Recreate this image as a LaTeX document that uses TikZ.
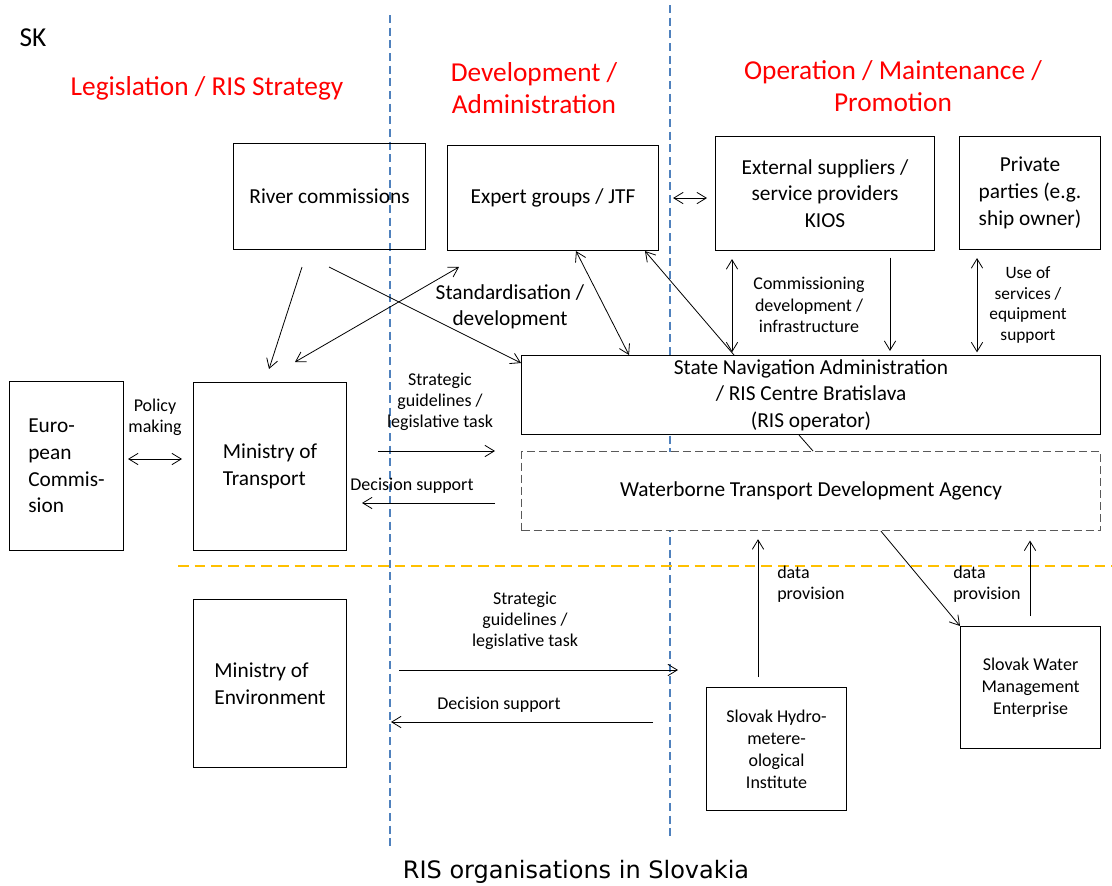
\documentclass[tikz,border=0pt]{standalone}
\usepackage{fontspec}
\setmainfont{Carlito}
\newfontfamily\captionfont{DejaVu Sans}
\usepackage{tikz}
\usetikzlibrary{arrows.meta}
\definecolor{headRed}{HTML}{FF0000}
\definecolor{lineBlue}{HTML}{4F81BD}
\definecolor{lineOrange}{HTML}{FFC000}
\definecolor{agencyGray}{HTML}{595959}
\newcommand{\orgNode}[7][]{
	\node[orgbox, #1, below right, minimum width = #5*0.75pt, minimum height = #6*0.75pt] (#2) at (#3, #4) {#7};
}

\begin{document}
\begin{tikzpicture}[x=0.75pt, y=-0.75pt,
	orgbox/.style = {draw, line width=0.8pt, fill=white, inner sep=0pt, align=center, font=\fontsize{16}{20}\selectfont},
	smallbox/.style = {font=\fontsize{13.5}{16.5}\selectfont},
	agency/.style = {draw=agencyGray, line width=0.9pt, dash pattern=on 6pt off 3pt},
	heading/.style = {text=headRed, inner sep=0pt, align=center, font=\fontsize{20.5}{24.5}\selectfont},
	flowtext/.style = {inner sep=0pt, align=center, font=\fontsize{13.5}{16}\selectfont},
	divider/.style = {draw=lineBlue, line width=1.6pt, dash pattern=on 6pt off 3.5pt},
	layerline/.style = {draw=lineOrange, line width=1.8pt, dash pattern=on 8pt off 4.5pt},
	plain/.style = {line width=0.6pt},
	conn/.style = {plain, -{Straight Barb[length=7pt, width=8.5pt]}},
	conn2/.style = {plain, {Straight Barb[length=7pt, width=8.5pt]}-{Straight Barb[length=7pt, width=8.5pt]}},
	]%

		\useasboundingbox (0, 0) rectangle (1112, 885);

		% dividers
		\draw[divider] (390, 15) -- (390, 850);
		\draw[divider] (670, 5) -- (670, 840);
		\draw[layerline] (178, 566) -- (1112, 566);

		% headings
		\node[inner sep=0pt, font=\fontsize{20.5}{24.5}\selectfont] (sk) at (33, 38) {SK};
		\node[heading] (legis) at (207, 88) {Legislation / RIS Strategy};
		\node[heading] (devel) at (534, 88) {Development /\\Administration};
		\node[heading] (oper) at (893, 86) {Operation / Maintenance /\\Promotion};

		% top row
		\orgNode[fill=none]{river}{233}{143}{192}{106}{River commissions}
		\orgNode{expert}{447}{145}{211}{105}{Expert groups / JTF}
		\orgNode{extsup}{715}{136}{219}{114}{External suppliers /\\service providers\\KIOS}
		\orgNode{private}{959}{136}{141}{113}{Private\\parties (e.g.\\ship owner)}

		% middle row
		\orgNode[align=left]{euro}{9}{381}{114}{169}{Euro-\\pean\\Commis-\\sion}
		\orgNode[align=left]{mot}{193}{382}{153}{168}{Ministry of\\Transport}
		\orgNode{statenav}{521}{355}{579}{79}{State Navigation Administration\\/ RIS Centre Bratislava\\(RIS operator)}
		\orgNode[agency]{wtda}{521}{451}{579}{79}{Waterborne Transport Development Agency}

		% bottom row
		\orgNode[align=left]{moe}{193}{599}{153}{168}{Ministry of\\Environment}
		\orgNode[smallbox]{hydro}{706}{687}{140}{123}{Slovak Hydro-\\metere-\\ological\\Institute}
		\orgNode[smallbox]{swme}{960}{626}{140}{122}{Slovak Water\\Management\\Enterprise}

		% flow labels
		\node[flowtext] (policy) at (155, 417) {Policy\\making};
		\node[flowtext, font=\fontsize{16}{19.5}\selectfont] (standard) at (510, 307) {Standardisation /\\development};
		\node[flowtext] (commis) at (809, 305) {Commissioning\\development /\\infrastructure};
		\node[flowtext, font=\fontsize{13}{15.5}\selectfont] (useof) at (1028, 305) {Use of\\services /\\equipment\\support};
		\node[flowtext] (stratTop) at (440, 402) {Strategic\\guidelines /\\legislative task};
		\node[flowtext] (decTop) at (412, 486) {Decision support};
		\node[flowtext] (stratBot) at (525, 621) {Strategic\\guidelines /\\legislative task};
		\node[flowtext] (decBot) at (499, 705) {Decision support};
		\node[flowtext, align=left, anchor=west] (dataA) at (777, 584) {data\\provision};
		\node[flowtext, align=left, anchor=west] (dataB) at (953, 584) {data\\provision};

		% free ends
		\coordinate (euroR) at (128, 459);
		\coordinate (motL) at (182, 459);
		\coordinate (riverL) at (302, 267);
		\coordinate (riverR) at (329, 267);
		\coordinate (motTop) at (269, 369);
		\coordinate (motCorner) at (295, 362);
		\coordinate (standTop) at (459, 267);
		\coordinate (strategyA) at (378, 451);
		\coordinate (strategyB) at (495, 451);
		\coordinate (decisionA) at (495, 503);
		\coordinate (decisionB) at (362, 503);
		\coordinate (envStratA) at (399, 670);
		\coordinate (envStratB) at (678, 670);
		\coordinate (envDecA) at (653, 722);
		\coordinate (envDecB) at (391, 722);

		% connectors
		\draw[conn2] (euroR) -- (motL);
		\draw[conn] (riverL) -- (motTop);
		\draw[conn] (riverR) -- (statenav.west |- 0,363);
		\draw[conn2] (motCorner) -- (standTop);
		\draw[conn2] (576,0 |- expert.south) -- (629,0 |- statenav.north);
		\draw[conn] (734,0 |- statenav.north) -- (645,0 |- expert.south);
		\draw[conn2, shorten <=10.5pt, shorten >=6pt] (expert.east) -- (expert.east -| extsup.west);
		\draw[conn2, shorten <=6pt, shorten >=2pt] (732,0 |- extsup.south) -- (732,0 |- statenav.north);
		\draw[conn, shorten <=5pt, shorten >=3pt] (890,0 |- extsup.south) -- (890,0 |- statenav.north);
		\draw[conn2, shorten <=6pt, shorten >=2pt] (977,0 |- private.south) -- (977,0 |- statenav.north);
		\draw[plain] (799,0 |- statenav.south) -- (813,0 |- wtda.north);
		\draw[conn] (strategyA) -- (strategyB);
		\draw[conn] (decisionA) -- (decisionB);
		\draw[conn] (envStratA) -- (envStratB);
		\draw[conn] (envDecA) -- (envDecB);
		\draw[conn, shorten <=7.5pt, shorten >=6pt] (758,0 |- hydro.north) -- (758,0 |- wtda.south);
		\draw[conn] (881,0 |- wtda.south) -- (swme.north west);
		\draw[conn, shorten <=7.5pt, shorten >=7pt] (1030,0 |- swme.north) -- (1030,0 |- wtda.south);

		% caption
		\node[inner sep=0pt, font=\captionfont\fontsize{18}{20}\selectfont] (caption) at (576, 872) {RIS organisations in Slovakia};

	\end{tikzpicture}
\end{document}
